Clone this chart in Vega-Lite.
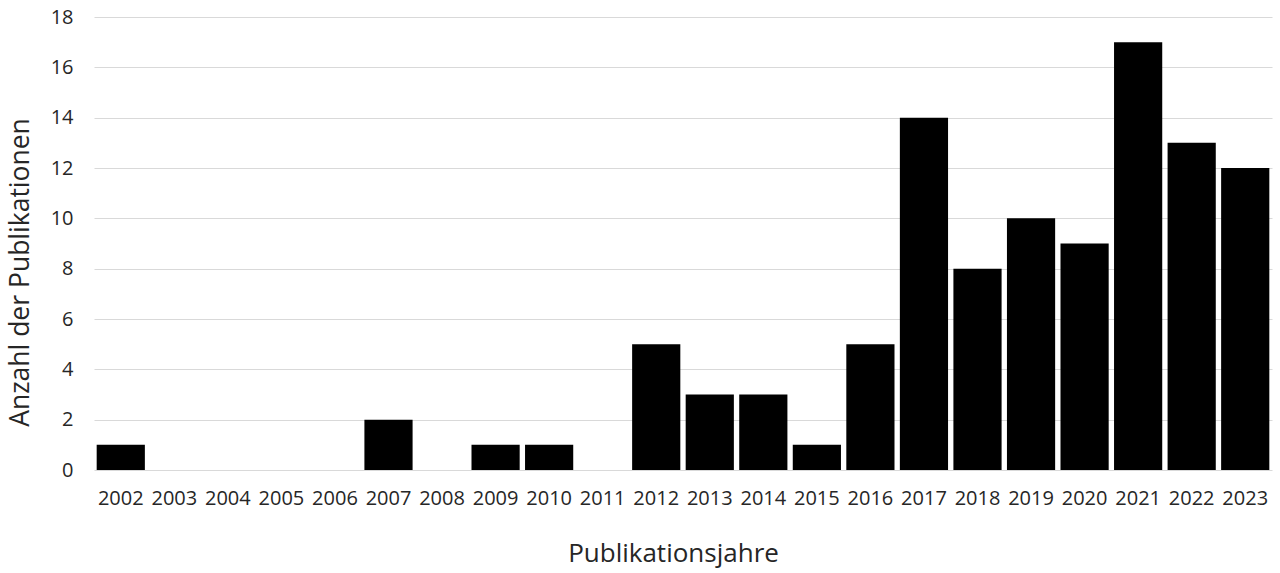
{
  "$schema": "https://vega.github.io/schema/vega-lite/v6.json",
  "width": 1178,
  "height": 453,
  "autosize": "none",
  "padding": {"left": 94, "top": 17, "right": 8, "bottom": 103},
  "background": "white",
  "config": {
    "view": {"stroke": null},
    "font": "Open Sans"
  },
  "data": {
    "values": [
      {"Jahr": "2002", "Anzahl": 1},
      {"Jahr": "2003", "Anzahl": 0},
      {"Jahr": "2004", "Anzahl": 0},
      {"Jahr": "2005", "Anzahl": 0},
      {"Jahr": "2006", "Anzahl": 0},
      {"Jahr": "2007", "Anzahl": 2},
      {"Jahr": "2008", "Anzahl": 0},
      {"Jahr": "2009", "Anzahl": 1},
      {"Jahr": "2010", "Anzahl": 1},
      {"Jahr": "2011", "Anzahl": 0},
      {"Jahr": "2012", "Anzahl": 5},
      {"Jahr": "2013", "Anzahl": 3},
      {"Jahr": "2014", "Anzahl": 3},
      {"Jahr": "2015", "Anzahl": 1},
      {"Jahr": "2016", "Anzahl": 5},
      {"Jahr": "2017", "Anzahl": 14},
      {"Jahr": "2018", "Anzahl": 8},
      {"Jahr": "2019", "Anzahl": 10},
      {"Jahr": "2020", "Anzahl": 9},
      {"Jahr": "2021", "Anzahl": 17},
      {"Jahr": "2022", "Anzahl": 13},
      {"Jahr": "2023", "Anzahl": 12}
    ]
  },
  "mark": {"type": "bar", "color": "black"},
  "encoding": {
    "x": {
      "field": "Jahr",
      "type": "ordinal",
      "scale": {"paddingInner": 0.1, "paddingOuter": 0.05},
      "axis": {
        "title": "Publikationsjahre",
        "labelAngle": 0,
        "labelFontSize": 20,
        "labelColor": "#262626",
        "labelPadding": 18,
        "ticks": false,
        "domain": false,
        "titleFontSize": 26,
        "titleFontWeight": "normal",
        "titleColor": "#262626",
        "titlePadding": 32,
        "titleX": 579
      }
    },
    "y": {
      "field": "Anzahl",
      "type": "quantitative",
      "scale": {"domain": [0, 18]},
      "axis": {
        "title": "Anzahl der Publikationen",
        "values": [0, 2, 4, 6, 8, 10, 12, 14, 16, 18],
        "labelFontSize": 20,
        "labelColor": "#262626",
        "labelPadding": 21,
        "ticks": false,
        "domain": false,
        "grid": true,
        "gridColor": "#d9d9d9",
        "titleFontSize": 26.5,
        "titleFontWeight": "normal",
        "titleColor": "#262626",
        "titlePadding": 16,
        "titleY": 255
      }
    }
  }
}
